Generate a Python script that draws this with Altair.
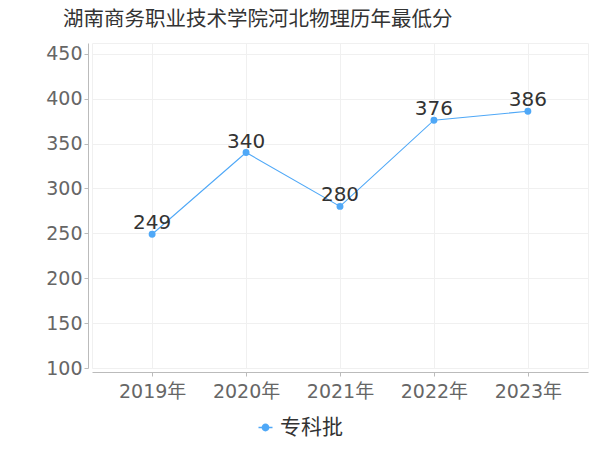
import altair as alt
import pandas as pd

years = ["2019年", "2020年", "2021年", "2022年", "2023年"]
scores = [249, 340, 280, 376, 386]
series = ["专科批"] * 5
title_text = "湖南商务职业技术学院河北物理历年最低分"
y_ticks = [100, 150, 200, 250, 300, 350, 400, 450]

df = pd.DataFrame({"year": years, "score": scores, "series": series})

FONT = "DejaVu Sans, Noto Sans CJK SC"
BLUE = "#4fa8f7"

x = alt.X("year:N", sort=years, title=None,
          scale=alt.Scale(type="point", padding=0.64),
          axis=alt.Axis(labelAngle=0, offset=4, tickSize=4, labelPadding=6,
                        labelFontSize=19, labelColor="#666", labelFont=FONT,
                        domainColor="#bbb", tickColor="#bbb",
                        grid=True, gridColor="#f0f0f0"))
y = alt.Y("score:Q", title=None,
          scale=alt.Scale(domain=[100, 462], nice=False, zero=False),
          axis=alt.Axis(values=y_ticks, offset=4, tickSize=4, labelPadding=2,
                        labelFontSize=19, labelColor="#666", labelFont=FONT,
                        domainColor="#bbb", tickColor="#bbb",
                        grid=True, gridColor="#f0f0f0"))
color = alt.Color("series:N", title=None,
                  scale=alt.Scale(range=[BLUE]),
                  legend=alt.Legend(orient="none", legendX=163, legendY=374,
                                    direction="horizontal",
                                    symbolType="M-1,0L1,0M-0.45,0A0.45,0.45 0 1,0 0.45,0A0.45,0.45 0 1,0 -0.45,0",
                                    symbolSize=196, symbolStrokeWidth=1.5,
                                    symbolFillColor=BLUE, symbolStrokeColor=BLUE,
                                    labelFontSize=21, labelColor="#333", labelFont=FONT,
                                    labelOffset=4))

base = alt.Chart(df).encode(x=x, y=y)
line = base.mark_line(strokeWidth=1.1).encode(color=color)
pts = base.mark_point(filled=True, size=48, opacity=1).encode(color=color)
labels = base.mark_text(baseline="alphabetic", dy=-5, fontSize=20,
                        color="#333", font=FONT).encode(text="score:Q")

chart = alt.layer(line, pts, labels).properties(
    width=496, height=325,
    autosize=alt.AutoSizeParams(type="none"),
    padding={"left": 84, "top": 35, "right": 4, "bottom": 70},
    title=alt.TitleParams(title_text, anchor="start", frame="group", dx=-29,
                          offset=13, fontSize=20.5, font=FONT, color="#333",
                          fontWeight="normal"),
).configure_view(stroke="#f0f0f0")

chart.save("out.html", embed_options={"renderer": "svg", "actions": False})
